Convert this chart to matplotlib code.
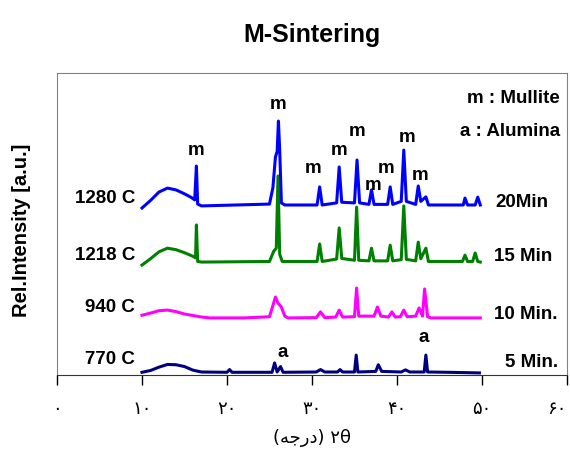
import matplotlib
matplotlib.use('Agg')
from matplotlib import pyplot as plt

# 2theta (deg) and relative intensity (stacked, a.u.)
x770 = [10.0, 11.0, 12.0, 13.0, 14.0, 15.0, 16.0, 17.0, 20.0, 20.3, 20.6, 25.3, 25.6, 25.9,
        26.3, 26.6, 30.5, 31.0, 31.5, 33.0, 33.3, 33.6, 35.0, 35.2, 35.4, 37.5, 37.8, 38.2,
        40.5, 41.0, 41.5, 43.2, 43.4, 43.6, 46.0, 49.7]
y770 = [0.9, 1.5, 2.6, 3.5, 3.4, 2.8, 1.6, 1.0, 0.9, 1.8, 0.9, 0.9, 4.0, 1.0,
        2.8, 0.9, 1.0, 1.8, 1.0, 1.0, 1.8, 1.0, 1.0, 6.6, 1.0, 1.2, 3.4, 1.2,
        1.0, 1.7, 1.0, 1.0, 6.6, 1.0, 0.9, 0.7]

x940 = [10.0, 11.0, 12.0, 13.0, 14.0, 15.0, 16.0, 17.0, 18.0, 22.0, 25.0, 25.4, 25.7, 26.0,
        26.4, 26.8, 27.2, 30.5, 31.0, 31.5, 32.8, 33.2, 33.6, 35.0, 35.25, 35.5, 37.3, 37.7,
        38.1, 39.0, 39.4, 39.8, 40.4, 40.8, 41.2, 42.2, 42.6, 43.0, 43.25, 43.6, 44.0, 49.8]
y940 = [19.8, 20.5, 21.3, 21.5, 21.0, 20.2, 19.7, 19.2, 18.9, 18.9, 19.3, 23.0, 25.8, 23.8,
        22.5, 19.5, 18.9, 19.0, 20.9, 19.0, 19.2, 21.5, 19.2, 19.3, 28.8, 19.5, 19.5, 22.5,
        19.5, 19.2, 20.9, 19.2, 19.3, 21.5, 19.3, 19.5, 22.2, 19.5, 28.5, 19.3, 18.9, 18.9]

x1218 = [10.0, 11.0, 12.0, 13.0, 14.0, 15.0, 16.0, 16.3, 16.4, 16.55, 17.0, 25.0, 25.5, 25.8,
         26.0, 26.2, 26.5, 30.6, 30.9, 31.2, 32.9, 33.2, 33.5, 35.0, 35.25, 35.5, 36.7, 37.0,
         37.3, 38.9, 39.2, 39.5, 40.5, 40.8, 41.1, 42.2, 42.5, 42.8, 43.4, 43.7, 47.7, 48.0,
         48.3, 48.9, 49.2, 49.5, 49.8]
y1218 = [36.4, 38.5, 40.8, 42.0, 41.5, 40.5, 39.3, 38.8, 49.7, 37.6, 37.4, 37.6, 41.0, 42.0,
         65.9, 40.0, 37.6, 37.6, 43.4, 37.6, 38.4, 48.7, 38.6, 38.0, 55.6, 38.0, 37.8, 42.0,
         37.8, 37.8, 43.0, 37.8, 38.2, 56.0, 38.3, 37.8, 44.0, 38.5, 42.0, 37.6, 37.6, 39.7,
         37.6, 37.6, 40.4, 37.6, 37.4]

x1280 = [10.0, 11.0, 12.0, 13.0, 14.0, 15.0, 15.8, 16.2, 16.4, 16.55, 17.0, 25.0, 25.4, 25.7,
         25.9, 26.05, 26.2, 26.4, 26.8, 30.6, 30.9, 31.2, 32.9, 33.2, 33.5, 35.0, 35.3, 35.6,
         36.7, 37.0, 37.3, 38.9, 39.2, 39.5, 40.5, 40.8, 41.1, 42.2, 42.5, 42.8, 43.4, 43.7,
         47.8, 48.0, 48.3, 49.2, 49.5, 49.8]
y1280 = [55.3, 57.8, 60.6, 61.9, 61.3, 60.0, 58.8, 58.0, 69.2, 56.6, 56.0, 56.6, 62.0, 72.2,
         74.0, 84.1, 74.5, 57.0, 56.3, 56.3, 62.3, 56.3, 57.0, 68.9, 57.2, 57.0, 71.2, 57.0,
         56.5, 61.3, 56.5, 56.5, 62.3, 56.5, 57.5, 74.5, 57.5, 56.5, 62.6, 57.5, 59.0, 56.3,
         56.3, 58.6, 56.3, 56.3, 58.9, 56.3]

x_ticks = [0, 10, 20, 30, 40, 50, 60]
tick_labels = ['\u06f0', '\u06f1\u06f0', '\u06f2\u06f0', '\u06f3\u06f0',
               '\u06f4\u06f0', '\u06f5\u06f0', '\u06f6\u06f0']

# peak markers: (2theta, height)
m_peaks = [(16.4, 74.5), (26.0, 89.5), (30.1, 68.5), (33.2, 74.5), (35.3, 80.5),
           (37.2, 62.9), (38.7, 68.5), (41.2, 78.5), (42.7, 66.2)]
a_peaks = [(26.5, 7.3), (43.2, 12.3)]

plt.rcParams['font.family'] = ['Liberation Sans', 'DejaVu Sans']
fig = plt.figure(figsize=(5.7, 4.57), dpi=100)
ax = fig.add_axes([0.1, 0.1794, 0.8947, 0.6608])

ax.plot(x770, y770, color='#000080', lw=2.2)
ax.plot(x940, y940, color='#ff00ff', lw=2.2)
ax.plot(x1218, y1218, color='#008000', lw=2.2)
ax.plot(x1280, y1280, color='#0000ff', lw=2.2)

ax.set_xlim(0, 60)
ax.set_ylim(0, 100)
ax.set_yticks([])
ax.set_xticks(x_ticks)
ax.set_xticklabels(tick_labels, family='DejaVu Sans', fontsize=13)
ax.get_xticklabels()[-1].set_ha('right')
ax.tick_params(axis='x', direction='out', length=7, width=1, pad=11)
for s in ['top', 'right', 'left']:
    ax.spines[s].set_color('#808080')
ax.spines['bottom'].set_color('#333333')

ax.set_title('M-Sintering', fontsize=18, fontweight='bold', pad=22)
ax.set_ylabel('Rel.Intensity [a.u.]', fontsize=14.5, fontweight='bold', va='center')
ax.yaxis.set_label_coords(-0.069, 0.48)
ax.set_xlabel('(\ufeea\ufe9f\ufead\ufea9) \u06f2\u03b8', family='DejaVu Sans', fontsize=13, labelpad=8)

bold = dict(fontsize=13.5, fontweight='bold')
for t, h in m_peaks:
    ax.text(t, h, 'm', ha='center', va='center', **bold)
for t, h in a_peaks:
    ax.text(t, h, 'a', ha='center', va='center', **bold)

ax.text(59.2, 91.5, 'm : Mullite', ha='right', va='center', **bold)
ax.text(59.2, 80.8, 'a : Alumina', ha='right', va='center', **bold)

for h, lab in [(58.6, '1280 C'), (39.7, '1218 C'), (22.5, '940 C'), (5.0, '770 C')]:
    ax.text(9.2, h, lab, ha='right', va='center', **bold)
for t, h, lab in [(51.6, 57.0, '20Min'), (51.4, 39.4, '15 Min'), (51.4, 19.9, '10 Min.'),
                  (52.7, 4.0, '5 Min.')]:
    ax.text(t, h, lab, ha='left', va='center', **bold)

fig.savefig('out.png', dpi=100)
